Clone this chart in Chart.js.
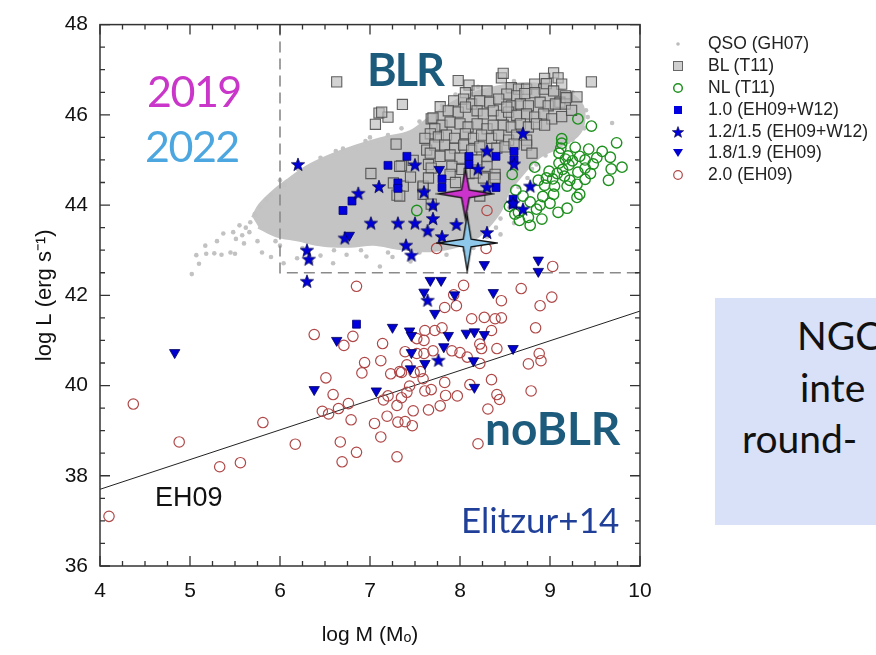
<!DOCTYPE html>
<html>
<head>
<meta charset="utf-8">
<script src="https://cdn.jsdelivr.net/npm/chart.js@4.4.1/dist/chart.umd.min.js"></script>
<style>
  html, body { margin: 0; padding: 0; background: #fff; overflow: hidden; }
  #wrap { position: relative; width: 876px; height: 655px; overflow: hidden; }
  #wrap canvas { position: absolute; left: 0; top: 0; }
  .note { position: absolute; white-space: nowrap; line-height: 1; }
  .gothic { font-family: Lato, "DejaVu Sans", sans-serif; }
  #legend { position: absolute; left: 668px; top: 33px; font-family: "Liberation Sans", Arial, sans-serif; font-size: 17.5px; color: #222; }
  #legend .row { position: relative; height: 21.9px; line-height: 21.9px; padding-left: 40px; white-space: nowrap; }
  #legend svg { position: absolute; left: 3px; top: 4px; }
  #ngcBox { position: absolute; left: 715px; top: 298px; width: 300px; height: 227px; background: #d9e1f8; }
</style>
</head>
<body>
<div id="wrap">
  <canvas id="chart" width="876" height="655"></canvas>

  <div class="note gothic" style="left:147px; top:69px; font-size:43px; letter-spacing:-1.5px; color:#c936c9;">2019</div>
  <div class="note gothic" style="left:145px; top:124px; font-size:43px; letter-spacing:-1.5px; color:#4ca6e0;">2022</div>
  <div class="note gothic" style="left:367px; top:47px; font-size:45px; letter-spacing:-2px; font-weight:bold; color:#1d5b7d;">BLR</div>
  <div class="note gothic" style="left:485px; top:405px; font-size:46px; font-weight:bold; color:#1d5b7d;">noBLR</div>
  <div class="note gothic" style="left:461px; top:502px; font-size:35px; color:#1f3f99;">Elitzur+14</div>
  <div class="note" style="left:155px; top:484px; font-size:27px; font-family:'Liberation Sans', Arial, sans-serif; color:#111;">EH09</div>

  <div id="ngcBox">
    <div class="note gothic" style="left:82px; top:18px; font-size:39px; color:#111;">NGC</div>
    <div class="note gothic" style="left:85px; top:70px; font-size:39px; color:#111;">inte</div>
    <div class="note gothic" style="left:27px; top:121px; font-size:39px; color:#111;">round-</div>
  </div>

  <div id="legend">
    <div class="row"><svg width="14" height="14"><circle cx="7" cy="7" r="1.8" fill="#bbbbbb"/></svg>QSO (GH07)</div>
    <div class="row"><svg width="14" height="14"><rect x="2.5" y="2.5" width="9" height="9" fill="#cfcfcf" stroke="#666" stroke-width="1"/></svg>BL (T11)</div>
    <div class="row"><svg width="14" height="14"><circle cx="7" cy="7" r="4.3" fill="none" stroke="#1e901e" stroke-width="1.5"/></svg>NL (T11)</div>
    <div class="row"><svg width="14" height="14"><rect x="3" y="3" width="8" height="8" fill="#0000e0"/></svg>1.0 (EH09+W12)</div>
    <div class="row"><svg width="14" height="14"><polygon id="legStar" fill="#0000d8" stroke="#000040" stroke-width="0.6"/></svg>1.2/1.5 (EH09+W12)</div>
    <div class="row"><svg width="14" height="14"><polygon points="2,3 12,3 7,11" fill="#0000d0"/></svg>1.8/1.9 (EH09)</div>
    <div class="row"><svg width="14" height="14"><circle cx="7" cy="7" r="4.3" fill="none" stroke="#b04848" stroke-width="1.2"/></svg>2.0 (EH09)</div>
  </div>
</div>

<script>
// log M / log L values for each sample

// QSO (GH07): outline of the dense core, then the loose points around it
const qsoOutline = [
  [5.70,43.72],[5.78,44.00],[5.92,44.28],[6.10,44.56],[6.30,44.84],[6.55,45.08],[6.85,45.30],[7.12,45.46],
  [7.45,45.62],[7.68,45.95],[8.04,46.38],[8.40,46.60],[8.78,46.68],[9.12,46.55],[9.34,46.25],[9.37,45.85],
  [9.30,45.55],[9.10,45.30],[8.88,45.08],[8.70,44.72],[8.53,44.28],[8.45,43.90],[8.34,43.60],[8.20,43.32],
  [8.00,43.12],[7.67,43.00],[7.33,43.05],[7.04,43.14],[6.78,43.10],[6.48,43.12],[6.19,43.24],[5.96,43.33],
  [5.76,43.52]
];
const qsoDots = [
  [5.02,42.47],[5.07,42.89],[5.18,42.92],[5.27,42.93],[5.35,42.90],[5.45,42.95],[5.50,42.92],[5.17,43.10],
  [5.37,43.37],[5.48,43.40],[5.58,43.33],[5.51,43.25],[5.67,43.62],[5.62,43.50],[5.72,43.80],[5.78,43.95],
  [5.85,44.12],[5.90,44.22],[5.30,43.20],[5.10,42.70],[5.60,43.15],[5.75,43.20],[5.80,42.95],[5.90,42.85],
  [6.04,42.71],[6.19,42.82],[6.35,42.75],[6.45,42.88],[6.59,42.71],[6.74,42.90],[6.96,42.86],[7.11,42.64],
  [7.25,42.85],[7.45,42.75],[7.55,42.95],[7.85,42.90],[8.05,43.00],[6.00,43.10],[6.25,43.05],[6.60,43.00],
  [6.90,43.00],[7.20,42.95],[5.95,43.20],[5.66,43.40],[5.55,43.55],
  [6.00,44.55],[6.20,44.80],[6.45,45.05],[6.70,45.25],[6.95,45.42],[7.20,45.55],[7.35,45.70],[7.55,45.85],
  [7.80,46.20],[7.95,46.45],[8.20,46.62],[8.60,46.75],[9.00,46.70],[9.25,46.50],[9.69,45.82],[6.62,45.20],
  [6.05,44.45],[7.00,45.50],
  [9.40,46.10],[9.42,45.95],[9.38,45.70],[9.25,45.45],[9.05,45.25],[8.95,45.10],[8.85,44.90],[8.75,44.60],
  [8.65,44.40],[8.60,44.20],[8.55,43.95],[8.45,43.70],[8.40,43.50],[8.30,43.30],[8.15,43.20],[8.45,43.35],
  [8.60,43.60],[8.50,44.10],[8.55,44.60],[8.70,44.95],[8.15,43.05],[8.91,45.73],[9.20,45.40],[8.80,44.80]
];

// BL (T11)
const blT11 = [
  [6.63,46.73],[7.10,46.04],[7.20,45.95],[7.06,45.79],[7.01,44.70],[7.36,46.23],[7.78,46.18],[7.68,45.91],
  [9.46,46.73],[9.04,46.93],[9.09,46.82],[9.13,46.68],[8.94,46.81],[8.46,46.82],[8.48,46.92],[7.98,46.76],
  [8.10,46.66],[7.29,45.35],[7.35,44.87],[7.48,44.99],[7.26,44.49],[7.37,44.42],[7.30,44.22],[7.59,44.39],
  [7.63,45.22],[7.65,44.90],
  [8.57,46.60],[8.65,46.57],[8.74,46.57],[8.83,46.68],[8.93,46.57],[8.96,46.69],[8.06,46.49],[8.19,46.53],
  [8.30,46.53],[8.52,46.46],[8.63,46.42],[8.72,46.47],[8.83,46.49],[9.04,46.53],[9.17,46.42],[9.11,46.28],
  [7.93,46.31],[8.04,46.35],[8.13,46.24],[8.22,46.31],[8.33,46.28],[8.43,46.35],[8.57,46.20],[8.67,46.24],
  [8.76,46.20],[8.89,46.28],[8.98,46.20],[9.06,46.24],[9.17,46.24],[7.70,45.93],[7.13,46.06],
  [7.87,46.09],[7.98,46.06],[8.06,46.17],[8.19,46.09],[8.26,46.02],[8.37,46.09],[8.46,45.99],[8.54,46.06],
  [8.63,45.99],[8.74,46.02],[8.83,45.95],[8.93,46.02],[9.02,45.91],[9.13,45.96],[8.52,46.17],
  [7.80,45.77],[7.89,45.84],[8.00,45.80],[8.09,45.73],[8.19,45.80],[8.30,45.69],[8.37,45.77],[8.48,45.77],
  [8.57,45.73],[8.67,45.80],[8.76,45.73],[8.85,45.80],[8.94,45.77],[7.72,45.69],[7.67,45.58],
  [7.76,45.51],[7.85,45.55],[7.94,45.48],[8.06,45.58],[8.15,45.48],[8.24,45.55],[8.35,45.48],[8.43,45.55],
  [8.54,45.44],[8.63,45.55],[8.74,45.44],[7.61,45.48],[7.72,45.33],
  [7.83,45.33],[7.94,45.26],[8.04,45.33],[8.13,45.22],[8.22,45.29],[8.41,45.26],[8.50,45.29],[8.74,45.33],
  [7.67,45.15],[7.78,45.08],[7.89,45.11],[8.00,45.04],[8.19,45.00],[8.30,45.07],
  [7.33,44.86],[7.68,44.82],[7.91,44.86],[8.02,44.79],[7.89,44.68],[8.30,44.86],[8.39,44.68],[7.59,44.42],
  [7.33,44.20],[8.80,45.15],[8.60,45.35],[9.18,46.38],[9.30,46.40],[9.24,46.10],[7.59,44.24],[7.68,44.02],
  [8.10,44.70],[8.39,44.60],[7.65,44.60],[8.17,44.71],[8.26,44.60],[7.45,44.62],[7.95,44.50],[8.22,44.20]
];

// NL (T11)
const nlT11 = [
  [9.31,45.91],[9.46,45.75],[9.74,45.38],[9.13,45.47],[9.13,45.37],[9.12,45.26],[9.28,45.28],[9.43,45.24],
  [9.58,45.19],[9.67,45.06],[9.20,45.09],[9.17,45.02],[9.33,45.08],[9.39,45.00],[9.48,44.91],[9.80,44.84],
  [9.68,44.80],[9.10,44.93],[9.21,44.89],[9.39,44.82],[9.31,44.73],[9.14,44.79],[9.08,44.70],[8.99,44.75],
  [8.83,44.84],[9.03,44.58],[8.96,44.60],[9.16,44.64],[9.19,44.42],[9.30,44.46],[9.39,44.57],[9.65,44.55],
  [8.87,44.55],[9.05,44.42],[8.94,44.44],[9.04,44.24],[8.92,44.19],[9.00,44.04],[8.89,44.00],[8.78,44.07],
  [9.19,43.93],[9.09,43.84],[9.30,44.17],[9.33,44.24],[8.58,44.68],[8.62,44.33],[8.55,43.97],[8.65,43.84],
  [8.76,43.73],[8.78,43.55],[8.91,43.69],[8.85,43.91],[7.52,43.88],[8.61,43.80],[8.66,43.66],[9.25,44.98],
  [9.52,45.05],[9.45,44.70],[9.10,45.15],[9.22,44.55],[8.70,44.20]
];

// type 1.0 (EH09+W12)
const type10 = [
  [6.70,43.88],[6.80,44.09],[7.41,45.08],[7.20,44.88],[7.31,44.49],[7.31,44.37],[8.10,45.08],[8.10,44.90],
  [8.40,45.08],[8.60,45.19],[8.60,45.00],[7.80,44.58],[7.80,44.39],[8.40,44.39],[8.59,44.13],[8.59,44.02],
  [6.85,41.36]
];

// type 1.2/1.5 (EH09+W12)
const type1215 = [
  [6.20,44.89],[6.87,44.25],[7.10,44.40],[7.01,43.59],[6.72,43.26],[6.30,42.99],[6.32,42.79],[6.30,42.30],
  [7.50,44.88],[7.31,43.59],[7.50,43.59],[7.40,43.10],[7.46,42.88],[7.60,44.28],[7.64,43.42],[7.70,43.99],
  [7.70,43.69],[7.96,43.56],[7.80,43.29],[8.30,43.38],[8.20,44.79],[8.30,45.19],[8.30,44.39],[8.60,44.90],
  [8.70,45.58],[8.78,44.41],[8.70,43.90],[8.59,44.03],[7.64,41.88],[7.76,40.55]
];

// type 1.8/1.9 (EH09)
const type1819 = [
  [4.83,40.73],[6.63,41.00],[6.38,39.91],[7.07,39.88],[7.25,41.29],[7.44,41.21],[7.46,41.11],[7.87,41.11],
  [8.07,41.16],[8.16,41.19],[8.27,41.13],[7.82,40.86],[7.46,40.73],[7.61,40.49],[7.45,40.37],[8.15,40.55],
  [8.16,39.96],[7.67,42.33],[7.79,42.33],[7.60,42.07],[7.94,42.01],[7.72,41.60],[8.37,42.06],[8.59,40.82],
  [7.77,44.79],[8.27,42.68],[8.87,42.78],[8.87,42.53],[6.77,43.33]
];

// type 2.0 (EH09)
const type20 = [
  [6.85,42.20],[6.38,41.13],[6.81,41.09],[6.71,40.89],[7.14,40.93],[6.94,40.51],[7.12,40.55],[6.91,40.28],
  [6.51,40.17],[6.59,39.80],[6.47,39.43],[6.54,39.37],[6.65,39.49],[6.76,39.60],[6.79,39.24],[6.67,38.75],
  [6.69,38.31],[6.85,38.52],[7.05,39.16],[7.12,38.86],[7.19,39.32],[7.15,39.68],[6.17,38.70],[5.81,39.18],
  [5.56,38.29],[5.33,38.20],[4.88,38.75],[4.37,39.59],[4.10,37.10],
  [7.30,38.42],[7.31,39.19],[7.39,39.20],[7.47,39.11],[7.48,39.44],[7.30,39.56],[7.20,39.77],[7.35,39.73],
  [7.44,39.99],[7.41,39.85],[7.61,39.88],[7.59,40.15],[7.65,39.46],[7.78,39.55],[7.84,39.78],[7.83,40.07],
  [7.68,39.91],[7.35,40.29],[7.23,40.26],[7.39,40.75],[7.41,40.46],[7.52,40.71],[7.49,40.29],[7.56,40.31],
  [7.60,40.71],[7.70,40.77],[7.61,41.22],[7.60,41.00],[7.52,41.04],[7.72,41.22],[7.80,41.28],[7.83,41.73],
  [7.33,40.31],
  [8.04,42.22],[7.93,42.01],[7.96,41.77],[8.13,41.48],[8.27,41.51],[8.39,41.48],[8.46,41.88],[8.46,41.50],
  [8.68,42.15],[8.89,41.77],[9.02,41.96],[9.03,42.64],[8.84,41.28],[8.76,40.48],[8.88,40.71],[8.90,40.55],
  [8.79,39.88],[8.35,41.22],[8.41,40.82],[8.24,40.82],[8.00,40.73],[8.08,40.63],[8.22,40.49],[8.35,40.13],
  [8.41,39.80],[8.44,39.69],[8.31,39.48],[8.20,38.71],[8.11,40.02],[7.97,39.77],[7.91,40.77],[8.22,40.92],
  [8.30,43.88],[7.74,43.04],[8.29,43.04]
];

// NGC source, two epochs
const epoch2019 = [[8.06, 44.25]];
const epoch2022 = [[8.08, 43.16]];

// EH09 relation and the BLR boundary
const eh09Line = [[4, 37.70], [10, 41.65]];
const blrBoundary = [[6, 48], [6, 42.5], [10, 42.5]];

const xTicks = [4, 5, 6, 7, 8, 9, 10];
const yTicks = [36, 38, 40, 42, 44, 46, 48];

const xy = arr => arr.map(p => ({ x: p[0], y: p[1] }));

// star outlines
function starPoints(n, cx, cy, rOutX, rOutY, rIn) {
  const pts = [];
  for (let i = 0; i < n * 2; i++) {
    const a = -Math.PI / 2 + i * Math.PI / n;
    const rx = i % 2 === 0 ? rOutX : rIn;
    const ry = i % 2 === 0 ? rOutY : rIn;
    pts.push([cx + rx * Math.cos(a), cy + ry * Math.sin(a)]);
  }
  return pts;
}

function starCanvas(n, size, rOutX, rOutY, rIn, fill, stroke, lw) {
  const c = document.createElement('canvas');
  c.width = size; c.height = size;
  const g = c.getContext('2d');
  const pts = starPoints(n, size / 2, size / 2, rOutX, rOutY, rIn);
  g.beginPath();
  pts.forEach((p, i) => i ? g.lineTo(p[0], p[1]) : g.moveTo(p[0], p[1]));
  g.closePath();
  g.fillStyle = fill; g.fill();
  g.lineWidth = lw; g.strokeStyle = stroke; g.lineJoin = 'miter'; g.stroke();
  return c;
}

const smallStar = starCanvas(5, 16, 7, 7, 2.9, '#0000d8', '#000040', 0.7);
const star2019 = starCanvas(4, 60, 27, 25, 5.5, '#cc33cc', '#111', 1.4);
const star2022 = starCanvas(4, 62, 29, 28, 5.5, '#8ec9ec', '#111', 1.4);

document.getElementById('legStar').setAttribute('points',
  starPoints(5, 7, 7.5, 6, 6, 2.5).map(p => p.join(',')).join(' '));

// frame and inward ticks on all four sides
const frameTicks = {
  id: 'frameTicks',
  afterDraw(chart) {
    const { ctx, chartArea: a, scales: { x, y } } = chart;
    ctx.save();
    ctx.strokeStyle = '#333';
    ctx.lineWidth = 1.5;
    ctx.strokeRect(a.left, a.top, a.right - a.left, a.bottom - a.top);
    ctx.lineWidth = 1.3;
    ctx.beginPath();
    for (let v = xTicks[0]; v <= xTicks[xTicks.length - 1] + 1e-9; v += 0.25) {
      const px = x.getPixelForValue(v);
      const len = Math.abs(v - Math.round(v)) < 1e-6 ? 10 : 5;
      ctx.moveTo(px, a.bottom); ctx.lineTo(px, a.bottom - len);
      ctx.moveTo(px, a.top); ctx.lineTo(px, a.top + len);
    }
    for (let v = yTicks[0]; v <= yTicks[yTicks.length - 1] + 1e-9; v += 0.5) {
      const py = y.getPixelForValue(v);
      const len = yTicks.includes(v) ? 10 : 5;
      ctx.moveTo(a.left, py); ctx.lineTo(a.left + len, py);
      ctx.moveTo(a.right, py); ctx.lineTo(a.right - len, py);
    }
    ctx.stroke();
    ctx.restore();
  }
};

const tickFont = { family: "'Liberation Sans', Arial, sans-serif", size: 21 };
const titleFont = { family: "'Liberation Sans', Arial, sans-serif", size: 21 };

new Chart(document.getElementById('chart'), {
  type: 'scatter',
  data: {
    datasets: [
      { label: '2019', data: xy(epoch2019), pointStyle: star2019, order: 0 },
      { label: '2022', data: xy(epoch2022), pointStyle: star2022, order: 1 },
      { label: '1.8/1.9 (EH09)', data: xy(type1819), pointStyle: 'triangle', rotation: 180,
        pointRadius: 6, backgroundColor: '#0000d0', borderColor: '#00005a', borderWidth: 0.8, order: 2 },
      { label: '1.2/1.5 (EH09+W12)', data: xy(type1215), pointStyle: smallStar, order: 3 },
      { label: '1.0 (EH09+W12)', data: xy(type10), pointStyle: 'rect', pointRadius: 5.6,
        backgroundColor: '#0000e0', borderColor: '#00007a', borderWidth: 0.8, order: 4 },
      { label: '2.0 (EH09)', data: xy(type20), pointStyle: 'circle', pointRadius: 5.2,
        backgroundColor: 'rgba(0,0,0,0)', borderColor: '#b04848', borderWidth: 1.2, order: 5 },
      { label: 'NL (T11)', data: xy(nlT11), pointStyle: 'circle', pointRadius: 5.2,
        backgroundColor: 'rgba(0,0,0,0)', borderColor: '#1e901e', borderWidth: 1.4, order: 6 },
      { label: 'BL (T11)', data: xy(blT11), pointStyle: 'rect', pointRadius: 7.2,
        backgroundColor: 'rgba(188,188,188,0.65)', borderColor: 'rgba(70,70,70,0.85)', borderWidth: 1.1, order: 7 },
      { label: 'EH09', type: 'line', data: xy(eh09Line), borderColor: '#222', borderWidth: 1,
        pointRadius: 0, fill: false, order: 8 },
      { label: 'BLR boundary', type: 'line', data: xy(blrBoundary), borderColor: '#8a8a8a', borderWidth: 1.6,
        borderDash: [11, 6], pointRadius: 0, fill: false, order: 9 },
      { label: 'QSO (GH07)', data: xy(qsoDots), pointStyle: 'circle', pointRadius: 2.3,
        backgroundColor: '#c2c2c2', borderWidth: 0, order: 10 },
      { label: 'QSO core', type: 'line', data: xy(qsoOutline), borderColor: '#c4c4c4', borderWidth: 4,
        backgroundColor: '#c4c4c4', fill: 'shape', tension: 0.35, pointRadius: 0, order: 11 }
    ]
  },
  options: {
    responsive: false,
    animation: false,
    events: [],
    layout: { padding: { top: 16, right: 236, left: 0, bottom: 0 } },
    plugins: { legend: { display: false }, tooltip: { enabled: false } },
    scales: {
      x: {
        type: 'linear', min: 4, max: 10,
        afterFit: s => { s.height = 89; },
        grid: { display: false, drawTicks: false },
        border: { display: false },
        ticks: { stepSize: 1, padding: 13, color: '#111', font: tickFont },
        title: { display: true, text: 'log M (Mₒ)', color: '#111', font: titleFont, padding: { top: 0, bottom: 7 } }
      },
      y: {
        type: 'linear', min: 36, max: 48,
        afterFit: s => { s.width = 100; },
        grid: { display: false, drawTicks: false },
        border: { display: false },
        ticks: { stepSize: 2, padding: 12, color: '#111', font: tickFont },
        title: { display: true, text: 'log L (erg s⁻¹)', color: '#111', font: { family: titleFont.family, size: 22 }, padding: { top: 32, bottom: 0 } }
      }
    }
  },
  plugins: [frameTicks]
});
</script>
</body>
</html>
